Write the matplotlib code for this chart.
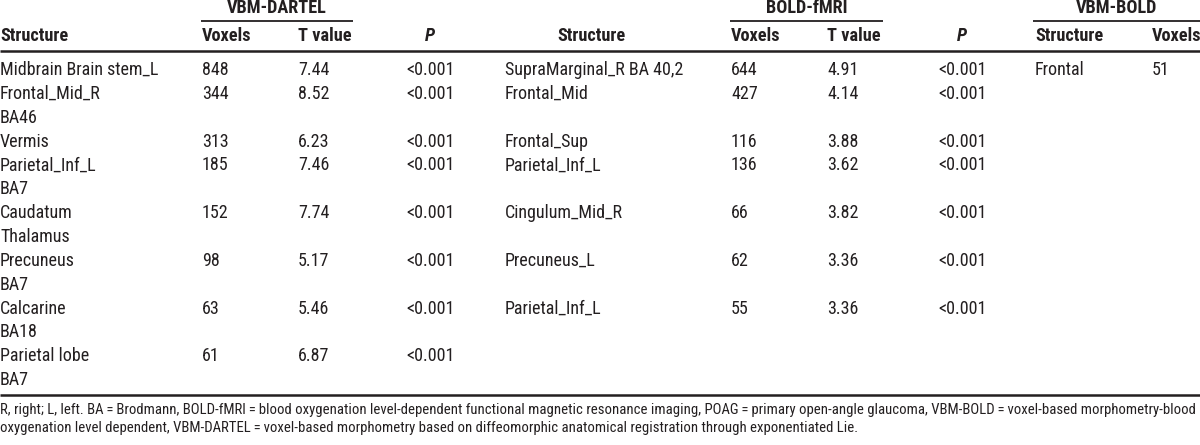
import matplotlib
matplotlib.use("Agg")
import matplotlib.pyplot as plt

# table content
dartel_structure = [["Midbrain Brain stem_L"], ["Frontal_Mid_R", "BA46"], ["Vermis"],
                    ["Parietal_Inf_L", "BA7"], ["Caudatum", "Thalamus"], ["Precuneus", "BA7"],
                    ["Calcarine", "BA18"], ["Parietal lobe", "BA7"]]
dartel_voxels = [848, 344, 313, 185, 152, 98, 63, 61]
dartel_t = ["7.44", "8.52", "6.23", "7.46", "7.74", "5.17", "5.46", "6.87"]
dartel_p = ["<0.001"] * 8

bold_structure = ["SupraMarginal_R BA 40,2", "Frontal_Mid", "Frontal_Sup", "Parietal_Inf_L",
                  "Cingulum_Mid_R", "Precuneus_L", "Parietal_Inf_L"]
bold_voxels = [644, 427, 116, 136, 66, 62, 55]
bold_t = ["4.91", "4.14", "3.88", "3.62", "3.82", "3.36", "3.36"]
bold_p = ["<0.001"] * 7

vbmbold_structure = ["Frontal"]
vbmbold_voxels = [51]

footnote = ["R, right; L, left. BA\u2009=\u2009Brodmann, BOLD-fMRI\u2009=\u2009blood oxygenation level-dependent functional magnetic resonance imaging, POAG\u2009=\u2009primary open-angle glaucoma, VBM-BOLD\u2009=\u2009voxel-based morphometry-blood",
            "oxygenation level dependent, VBM-DARTEL\u2009=\u2009voxel-based morphometry based on diffeomorphic anatomical registration through exponentiated Lie."]

FONT = ["Roboto Condensed", "DejaVu Sans"]
INK = "#231f20"

fig = plt.figure(figsize=(12, 4.45), dpi=100)
ax = fig.add_axes([0, 0, 1, 1])
ax.set_xlim(0, 1200)
ax.set_ylim(445, 0)
ax.axis("off")
renderer = fig.canvas.get_renderer()


def fit_size(s, width, bold=False):
    # font size that makes string s about `width` pixels wide
    size = 10
    for _ in range(3):
        t = ax.text(0, 0, s, fontsize=size, family=FONT, fontweight="bold" if bold else "normal")
        w = t.get_window_extent(renderer).width
        t.remove()
        size = size * width / w
    return size


BODY = fit_size("Midbrain Brain stem_L", 158)
HEAD = fit_size("Structure", 68, bold=True)
NOTE = fit_size(footnote[0], 1194)


def txt(x, y, s, bold=False, italic=False, ha="left", size=None):
    if size is None:
        size = HEAD if bold else BODY
    ax.text(x, y, s, ha=ha, va="center", fontsize=size, family=FONT, color=INK,
            fontweight="bold" if bold else "normal",
            fontstyle="italic" if italic else "normal")


# group headers with underline
for label, x0, x1 in [("VBM-DARTEL", 201, 353), ("BOLD-fMRI", 730, 883), ("VBM-BOLD", 1033, 1200)]:
    txt((x0 + x1) / 2, 8, label, bold=True, ha="center")
    ax.plot([x0, x1], [21, 21], color=INK, lw=1.3, solid_capstyle="butt")

# column positions
cols = {"s1": 0, "v1": 202, "t1": 298, "p1": 430, "s2": 505, "v2": 731, "t2": 827, "p2": 962,
        "s3": 1035, "v3": 1152}
header_y = 36
txt(cols["s1"], header_y, "Structure", bold=True)
txt(cols["v1"], header_y, "Voxels", bold=True)
txt(cols["t1"], header_y, "T value", bold=True)
txt(cols["p1"], header_y, "P", bold=True, italic=True, ha="center")
txt(591, header_y, "Structure", bold=True, ha="center")
txt(cols["v2"], header_y, "Voxels", bold=True)
txt(cols["t2"], header_y, "T value", bold=True)
txt(cols["p2"], header_y, "P", bold=True, italic=True, ha="center")
txt(cols["s3"], header_y, "Structure", bold=True)
txt(cols["v3"], header_y, "Voxels", bold=True)

ax.plot([0, 1200], [51, 51], color=INK, lw=1.8, solid_capstyle="butt")

row0, dy = 70, 23.85
line = 0
row_lines = []
for i, names in enumerate(dartel_structure):
    y = row0 + line * dy
    row_lines.append(y)
    for k, nm in enumerate(names):
        txt(cols["s1"], y + k * dy, nm)
    txt(cols["v1"], y, str(dartel_voxels[i]))
    txt(cols["t1"], y, dartel_t[i])
    txt(cols["p1"], y, dartel_p[i], ha="center")
    line += len(names)

for i, nm in enumerate(bold_structure):
    y = row_lines[i]
    txt(cols["s2"], y, nm)
    txt(cols["v2"], y, str(bold_voxels[i]))
    txt(cols["t2"], y, bold_t[i])
    txt(cols["p2"], y, bold_p[i], ha="center")

for i, nm in enumerate(vbmbold_structure):
    txt(cols["s3"], row_lines[i], nm)
    txt(cols["v3"], row_lines[i], str(vbmbold_voxels[i]))

ax.plot([0, 1200], [395, 395], color=INK, lw=1.8, solid_capstyle="butt")

txt(0, 410, footnote[0], size=NOTE)
txt(0, 428, footnote[1], size=NOTE)

fig.savefig("out.png", dpi=100)
